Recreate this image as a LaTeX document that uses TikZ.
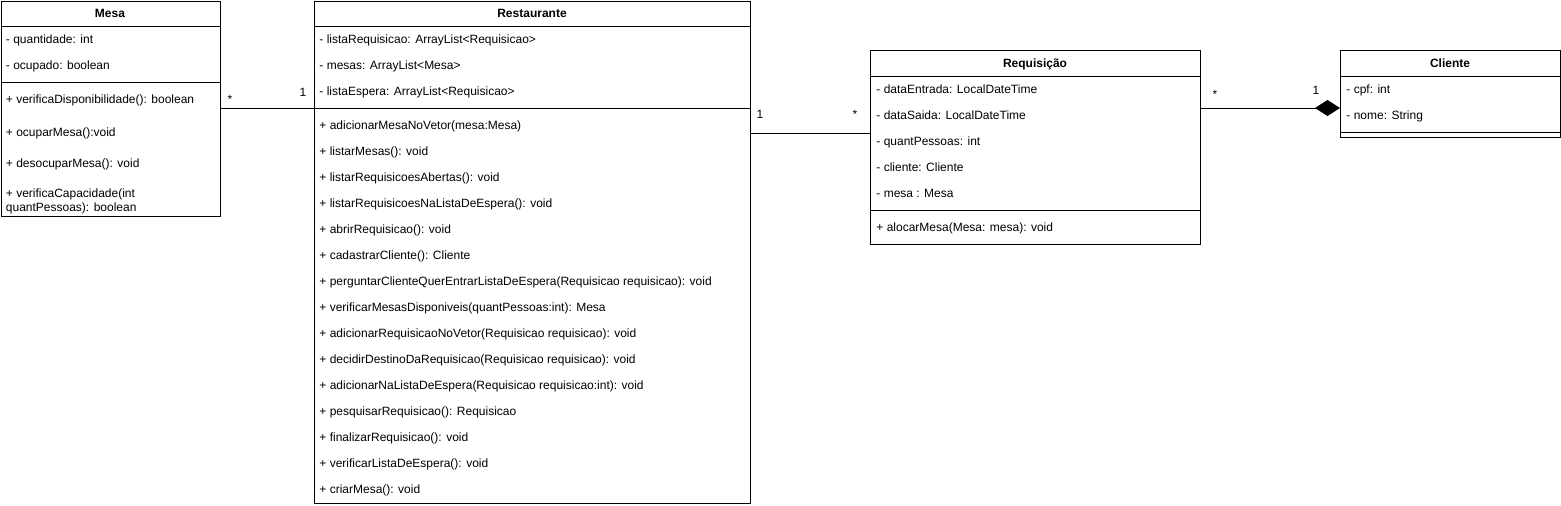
\documentclass[tikz,border=0pt]{standalone}
\usepackage{fontspec}
\setmainfont{Liberation Sans}
\usetikzlibrary{arrows.meta}

\begin{document}
\begin{tikzpicture}[
            x = 1pt, y = -1pt, % one unit per pixel, y going down
            line width = 0.9pt, % line style
            font = \fontsize{12}{14}\selectfont
        ]

        \tikzstyle{classbox}=[
            draw = black,
            fill = white,
            anchor = north west,
            inner sep = 0pt
        ]
        \tikzstyle{classname}=[
            font = \fontsize{12}{14}\selectfont\bfseries,
            inner sep = 0pt,
            text height = 8.6pt,
            text depth = 0pt
        ]
        \tikzstyle{member}=[
            anchor = west,
            inner sep = 0pt,
            text height = 8.6pt,
            text depth = 0pt,
            yshift = -0.5pt
        ]
        \tikzstyle{mult}=[member, anchor = center]
        \tikzstyle{assoc}=[draw = black]

        \useasboundingbox (0,0) rectangle (1561,506);

        % Mesa
        \node[classbox, minimum width=219.5pt, minimum height=215.5pt] (mesa) at (0.5,0.5) {};
        \draw (mesa.west |- 0,26) -- (mesa.east |- 0,26);
        \draw (mesa.west |- 0,82) -- (mesa.east |- 0,82);
        \node[classname] (mesaT) at (110,13) {Mesa};
        \node[member] (mesaA1) at (5.5,39) {- quantidade: int};
        \node[member] (mesaA2) at (5.5,65) {- ocupado: boolean};
        \node[member] (mesaM1) at (5.5,99) {+ verificaDisponibilidade(): boolean};
        \node[member] (mesaM2) at (5.5,132) {+ ocuparMesa():void};
        \node[member] (mesaM3) at (5.5,163) {+ desocuparMesa(): void};
        \node[member] (mesaM4) at (5.5,193) {+ verificaCapacidade(int};
        \node[member] (mesaM5) at (5.5,207) {quantPessoas): boolean};

        % Restaurante
        \node[classbox, minimum width=436pt, minimum height=502pt] (rest) at (314,0.5) {};
        \draw (rest.west |- 0,26) -- (rest.east |- 0,26);
        \draw (rest.west |- 0,108) -- (rest.east |- 0,108);
        \node[classname] (restT) at (532,13) {Restaurante};
        \node[member] (restA1) at (319,39) {- listaRequisicao: ArrayList<Requisicao>};
        \node[member] (restA2) at (319,65) {- mesas: ArrayList<Mesa>};
        \node[member] (restA3) at (319,91) {- listaEspera: ArrayList<Requisicao>};
        \node[member] (restM1) at (319,125) {+ adicionarMesaNoVetor(mesa:Mesa)};
        \node[member] (restM2) at (319,151) {+ listarMesas(): void};
        \node[member] (restM3) at (319,177) {+ listarRequisicoesAbertas(): void};
        \node[member] (restM4) at (319,203) {+ listarRequisicoesNaListaDeEspera(): void};
        \node[member] (restM5) at (319,229) {+ abrirRequisicao(): void};
        \node[member] (restM6) at (319,255) {+ cadastrarCliente(): Cliente};
        \node[member] (restM7) at (319,281) {+ perguntarClienteQuerEntrarListaDeEspera(Requisicao requisicao): void};
        \node[member] (restM8) at (319,307) {+ verificarMesasDisponiveis(quantPessoas:int): Mesa};
        \node[member] (restM9) at (319,333) {+ adicionarRequisicaoNoVetor(Requisicao requisicao): void};
        \node[member] (restM10) at (319,359) {+ decidirDestinoDaRequisicao(Requisicao requisicao): void};
        \node[member] (restM11) at (319,385) {+ adicionarNaListaDeEspera(Requisicao requisicao:int): void};
        \node[member] (restM12) at (319,411) {+ pesquisarRequisicao(): Requisicao};
        \node[member] (restM13) at (319,437) {+ finalizarRequisicao(): void};
        \node[member] (restM14) at (319,463) {+ verificarListaDeEspera(): void};
        \node[member] (restM15) at (319,489) {+ criarMesa(): void};

        % Requisicao
        \node[classbox, minimum width=330pt, minimum height=194pt] (req) at (870,50) {};
        \draw (req.west |- 0,76) -- (req.east |- 0,76);
        \draw (req.west |- 0,210) -- (req.east |- 0,210);
        \node[classname] (reqT) at (1035,63) {Requisição};
        \node[member] (reqA1) at (876,89) {- dataEntrada: LocalDateTime};
        \node[member] (reqA2) at (876,115) {- dataSaida: LocalDateTime};
        \node[member] (reqA3) at (876,141) {- quantPessoas: int};
        \node[member] (reqA4) at (876,167) {- cliente: Cliente};
        \node[member] (reqA5) at (876,193) {- mesa : Mesa};
        \node[member] (reqM1) at (876,227) {+ alocarMesa(Mesa: mesa): void};

        % Cliente
        \node[classbox, minimum width=220pt, minimum height=87pt] (cli) at (1340,50) {};
        \draw (cli.west |- 0,76) -- (cli.east |- 0,76);
        \draw (cli.west |- 0,132) -- (cli.east |- 0,132);
        \node[classname] (cliT) at (1450,63) {Cliente};
        \node[member] (cliA1) at (1346,89) {- cpf: int};
        \node[member] (cliA2) at (1346,115) {- nome: String};

        % associations
        \draw[assoc] (mesa.east |- 0,108) -- (rest.west |- 0,108);
        \node[mult] (m1) at (230,99) {*};
        \node[mult] (m2) at (303,92) {1};

        \draw[assoc] (rest.east |- 0,133) -- (req.west |- 0,133);
        \node[mult] (m3) at (760,114) {1};
        \node[mult] (m4) at (855,114) {*};

        \draw[assoc, -{Diamond[length=25pt, width=16pt]}] (req.east |- 0,108) -- (cli.west |- 0,108);
        \node[mult] (m5) at (1215,94) {*};
        \node[mult] (m6) at (1316,90) {1};
    \end{tikzpicture}
\end{document}
